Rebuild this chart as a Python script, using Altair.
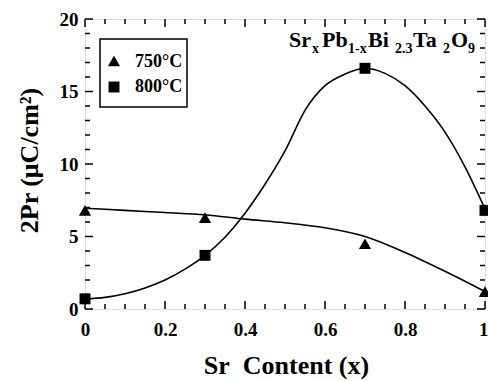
import altair as alt
import pandas as pd

# ---- data ----
series = ["750°C", "800°C"]
sr = [0.0, 0.3, 0.7, 1.0]
pr_750 = [6.8, 6.3, 4.5, 1.2]
pr_800 = [0.7, 3.7, 16.6, 6.8]

# fitted (guide-to-the-eye) curves
fit_x_750 = [0.0, 0.1, 0.2, 0.3, 0.4, 0.5, 0.6, 0.7, 0.8, 0.9, 1.0]
fit_750 = [6.95, 6.8, 6.65, 6.5, 6.2, 5.95, 5.6, 5.0, 3.9, 2.6, 1.2]
fit_x_800 = [0.0, 0.05, 0.1, 0.15, 0.2, 0.25, 0.3, 0.35, 0.4, 0.45, 0.5, 0.55, 0.6, 0.65,
             0.7, 0.75, 0.8, 0.85, 0.9, 0.95, 1.0]
fit_800 = [0.7, 0.8, 1.05, 1.45, 2.0, 2.75, 3.7, 4.95, 6.6, 8.6, 10.9, 13.7, 15.4, 16.2,
           16.6, 16.25, 15.4, 14.0, 12.2, 9.8, 6.9]

x_major = [0.0, 0.2, 0.4, 0.6, 0.8, 1.0]
x_minor = [0.05, 0.1, 0.15, 0.25, 0.3, 0.35, 0.45, 0.5, 0.55, 0.65, 0.7, 0.75, 0.85, 0.9, 0.95]
y_major = [0, 5, 10, 15, 20]
y_minor = [1, 2, 3, 4, 6, 7, 8, 9, 11, 12, 13, 14, 16, 17, 18, 19]

FONT = "Liberation Serif"
W, H = 400, 290
SHAPES = ["triangle-up", "square"]
SIZES = [150, 120]

pts = pd.DataFrame({
    "sr": sr + sr,
    "pr": pr_750 + pr_800,
    "series": [series[0]] * len(sr) + [series[1]] * len(sr),
})
fits = pd.DataFrame({
    "sr": fit_x_750 + fit_x_800,
    "pr": fit_750 + fit_800,
    "series": [series[0]] * len(fit_x_750) + [series[1]] * len(fit_x_800),
})

xscale = alt.Scale(domain=[0, 1], nice=False, zero=False)
yscale = alt.Scale(domain=[0, 20], nice=False)

x_axis = alt.Axis(
    values=x_major, format="~g", ticks=False, tickSize=0, domain=False, grid=False,
    labelFont=FONT, labelFontSize=19, labelFontWeight="bold", labelColor="black",
    labelPadding=11, labelFlush=False, labelOverlap=False,
    labelAlign={"condition": {"test": "datum.value == 1", "value": "right"}, "value": "center"},
    labelOffset={"condition": {"test": "datum.value == 1", "value": 3}, "value": 0},
    title="Sr\u00a0 Content (x)", titleFont=FONT, titleFontSize=26, titleFontWeight="bold",
    titleColor="black", titleX=201, titleY=64, titleAlign="center", titleBaseline="alphabetic",
)
y_axis = alt.Axis(
    values=y_major, ticks=False, tickSize=0, domain=False, grid=False,
    labelFont=FONT, labelFontSize=19, labelFontWeight="bold", labelColor="black",
    labelPadding=7, labelOverlap=False,
    title="2Pr (μC/cm²)", titleFont=FONT, titleFontSize=26, titleFontWeight="bold",
    titleColor="black", titleX=-48, titleY=141, titleAngle=270, titleAlign="center",
    titleBaseline="alphabetic",
)

lines = alt.Chart(fits).mark_line(color="black", strokeWidth=1.6, interpolate="monotone").encode(
    x=alt.X("sr:Q", scale=xscale, axis=x_axis),
    y=alt.Y("pr:Q", scale=yscale, axis=y_axis),
    detail="series:N",
)

points = alt.Chart(pts).mark_point(filled=True, opacity=1, color="black").encode(
    x=alt.X("sr:Q", scale=xscale, axis=x_axis),
    y=alt.Y("pr:Q", scale=yscale, axis=y_axis),
    shape=alt.Shape("series:N", scale=alt.Scale(domain=series, range=SHAPES), legend=None),
    size=alt.Size("series:N", scale=alt.Scale(domain=series, range=SIZES), legend=None),
)

def tick_layer(values, orient, length):
    df = pd.DataFrame({"sr": values, "pr": values})
    base = alt.Chart(df).mark_rule(color="black", strokeWidth=1.5)
    if orient in ("bottom", "top"):
        y0, y1 = (H, H - length) if orient == "bottom" else (0, length)
        return base.encode(x=alt.X("sr:Q", scale=xscale, axis=x_axis), y=alt.value(y0), y2=alt.value(y1))
    x0, x1 = (0, length) if orient == "left" else (W, W - length)
    return base.encode(y=alt.Y("pr:Q", scale=yscale, axis=y_axis), x=alt.value(x0), x2=alt.value(x1))

ticks = []
for o in ("bottom", "top"):
    ticks.append(tick_layer(x_major, o, 8))
    ticks.append(tick_layer(x_minor, o, 5))
for o in ("left", "right"):
    ticks.append(tick_layer(y_major, o, 8))
    ticks.append(tick_layer(y_minor, o, 5))

one = pd.DataFrame({"a": [0]})

# legend box (drawn by hand, as in the original figure)
legend_box = alt.Chart(one).mark_rect(fill="white", stroke="black", strokeWidth=1.5).encode(
    x=alt.value(15), x2=alt.value(102), y=alt.value(20), y2=alt.value(88)
)
legend_items = []
for name, shape, size, cy, by in zip(series, SHAPES, SIZES, (42, 68), (48, 73)):
    legend_items.append(
        alt.Chart(one).mark_point(shape=shape, filled=True, size=size, opacity=1, color="black")
        .encode(x=alt.value(29), y=alt.value(cy))
    )
    legend_items.append(
        alt.Chart(one).mark_text(text=name, font=FONT, fontSize=18, fontWeight="bold", color="black",
                                 align="left", baseline="alphabetic")
        .encode(x=alt.value(50), y=alt.value(by))
    )

# formula annotation with subscripts
pieces = [
    ("Sr", 204, 28, 22), ("x", 227, 34, 14), ("Pb", 237, 28, 22), ("1-x", 263, 34, 14),
    ("Bi", 283, 28, 22), ("2.3", 310, 34, 14), ("Ta", 328, 28, 22), ("2", 358, 34, 14),
    ("O", 366, 28, 22), ("9", 383, 34, 14),
]
texts = [
    alt.Chart(one).mark_text(text=t, font=FONT, fontSize=s, fontWeight="bold", color="black",
                             align="left", baseline="alphabetic").encode(x=alt.value(px), y=alt.value(py))
    for t, px, py, s in pieces
]

chart = alt.layer(*ticks, lines, points, legend_box, *legend_items, *texts).properties(
    width=W, height=H,
    autosize=alt.AutoSizeParams(type="none"),
    padding={"left": 85, "top": 19, "right": 3, "bottom": 72},
).configure_view(stroke="black", strokeWidth=1.6).configure(font=FONT, background="white")

chart.save("out.html", embed_options={"renderer": "svg", "actions": False})
